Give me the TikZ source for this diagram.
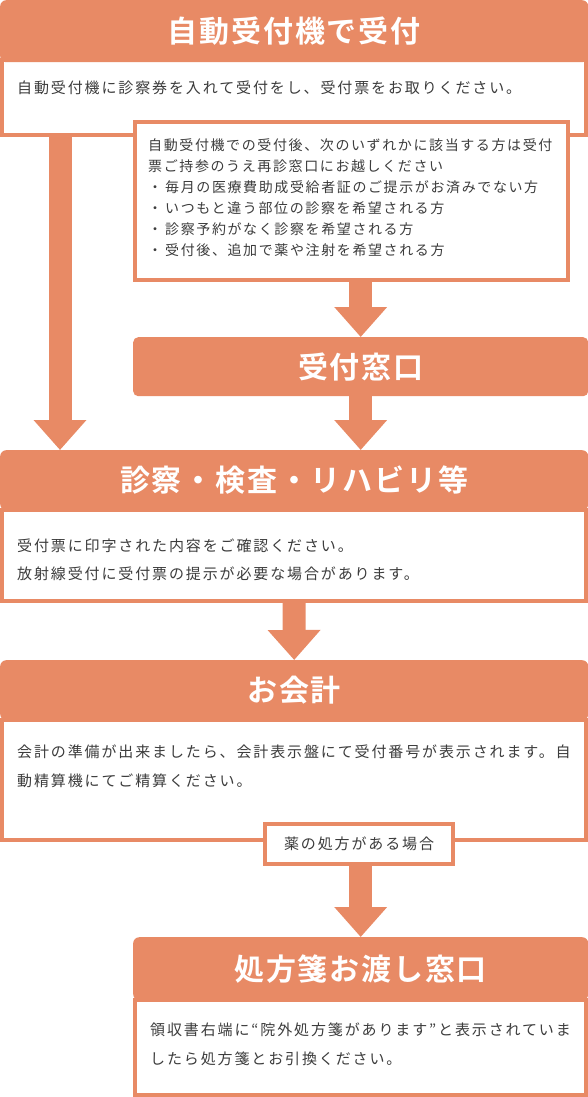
\documentclass[tikz,border=0pt]{standalone}
\usepackage{fontspec}
\setmainfont{Noto Sans CJK JP}[BoldFont={Noto Sans CJK JP Bold}]
\usetikzlibrary{arrows.meta,positioning}
\definecolor{salmon}{RGB}{232,138,101}
\definecolor{ink}{RGB}{60,60,60}

\begin{document}
\begin{tikzpicture}[x=1pt,y=1pt]
\tikzstyle{every node}=[inner sep=0pt]
\tikzstyle{head}=[anchor=north west, fill=salmon, rounded corners=6pt,
  text=white, font=\bfseries\fontsize{30}{36}\selectfont\addfontfeatures{LetterSpace=6}]
\tikzstyle{body}=[anchor=north west, draw=salmon, line width=4pt, fill=white]
\tikzstyle{txt}=[anchor=west, align=left, text=ink,
  font=\fontsize{15}{28.5}\selectfont\addfontfeatures{LetterSpace=12.5}]
\tikzstyle{blk}=[draw=salmon, line width=23pt, -{Triangle[width=51pt,length=30pt]}]

\useasboundingbox (0,0) rectangle (588,-1097);

% step 1
\node[body, minimum width=584pt, minimum height=75pt] at (0,-58) (b1) {};
\node[head, minimum width=588pt, minimum height=62pt] at (0,0) (h1) {自動受付機で受付};
\node[txt] at (17,-88) (t1) {自動受付機に診察券を入れて受付をし、受付票をお取りください。};

\node[body, minimum width=433pt, minimum height=158pt] at (133,-120) (sub) {};
\node[txt, font=\fontsize{14}{21}\selectfont\addfontfeatures{LetterSpace=11.5}] at (148,-197.5) (tsub) {%
自動受付機での受付後、次のいずれかに該当する方は受付\\
票ご持参のうえ再診窓口にお越しください\\
・\hspace{3pt}毎月の医療費助成受給者証のご提示がお済みでない方\\
・\hspace{3pt}いつもと違う部位の診察を希望される方\\
・\hspace{3pt}診察予約がなく診察を希望される方\\
・\hspace{3pt}受付後、追加で薬や注射を希望される方};

\node[head, minimum width=455pt, minimum height=59pt, rounded corners=5pt] at (133,-337) (win) {受付窓口};

% step 2
\node[body, minimum width=584pt, minimum height=91pt] at (0,-508) (b3) {};
\node[head, minimum width=588pt, minimum height=60pt] at (0,-450) (h3) {診察・検査・リハビリ等};
\node[txt] at (17,-560) (t3) {受付票に印字された内容をご確認ください。\\
放射線受付に受付票の提示が必要な場合があります。};

% step 3
\node[body, minimum width=584pt, minimum height=120pt] at (0,-718) (b4) {};
\node[head, minimum width=588pt, minimum height=60pt] at (0,-660) (h4) {お会計};
\node[txt] at (17,-766.5) (t4) {会計の準備が出来ましたら、会計表示盤にて受付番号が表示されます。自\\
動精算機にてご精算ください。};

\node[body, txt, anchor=center, minimum width=188pt, minimum height=40pt] at (359,-844) (cond) {薬の処方がある場合};

% step 4
\node[body, minimum width=451pt, minimum height=95pt] at (133,-998) (b5) {};
\node[head, minimum width=455pt, minimum height=63pt] at (133,-937) (h5) {処方箋お渡し窓口};
\node[txt] at (150,-1044.5) (t5) {領収書右端に“院外処方箋があります”と表示されていま\\
したら処方箋とお引換ください。};

\draw[blk] ([xshift=60pt]b1.south west) -- ([xshift=60pt]h3.north west);
\draw[blk] (sub.south -| win.north) -- (win.north);
\draw[blk] (win.south) -- (win.south |- h3.north);
\draw[blk] (b3.south) -- (h4.north);
\draw[blk] (cond.south -| h5.north) -- (h5.north);

\end{tikzpicture}
\end{document}
